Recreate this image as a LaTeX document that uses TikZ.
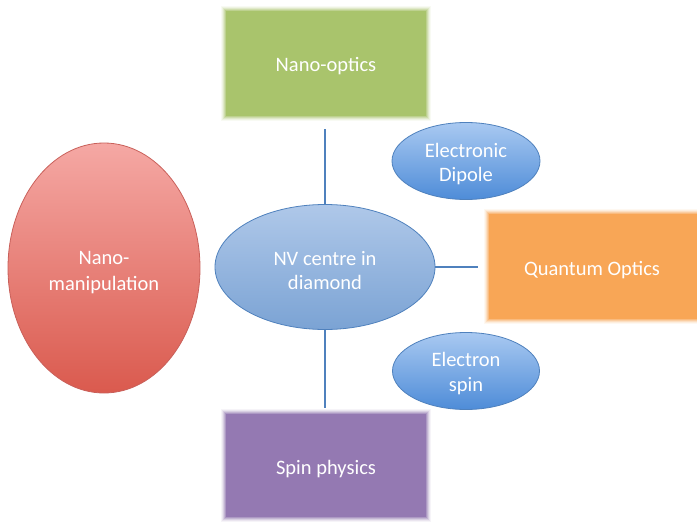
\documentclass[tikz,border=0pt]{standalone}
\usepackage{fontspec}
\setmainfont{Carlito}
\usetikzlibrary{shapes.geometric}
\definecolor{cgreen}{HTML}{A9C46C}
\definecolor{corange}{HTML}{F8A656}
\definecolor{cpurple}{HTML}{9479B2}
\definecolor{credtop}{HTML}{F5A8A4}
\definecolor{credbot}{HTML}{DA5A4E}
\definecolor{credline}{HTML}{C9605A}
\definecolor{cnvtop}{HTML}{AFC8E9}
\definecolor{cnvbot}{HTML}{7BA3D4}
\definecolor{cline}{HTML}{4F81BD}
\definecolor{csmtop}{HTML}{A9C9F1}
\definecolor{csmbot}{HTML}{4E8CD8}
\tikzset{
  lbl/.style={text=white, font=\fontsize{20.5}{24}\selectfont, align=center, inner sep=0pt},
  softbox/.style={rectangle, inner sep=0pt, lbl},
  nvell/.style={ellipse, inner sep=0pt, draw=cline, line width=0.8pt,
    top color=cnvtop, bottom color=cnvbot},
  smell/.style={ellipse, inner sep=0pt, draw=cline, line width=0.8pt,
    top color=csmtop, bottom color=csmbot},
  redell/.style={ellipse, inner sep=0pt, draw=credline, line width=0.8pt,
    top color=credtop, bottom color=credbot},
  link/.style={draw=cline, line width=2pt},
}
\newcommand{\softrect}[5]{% x1 y1 x2 y2 colour
  \foreach \d/\o in {5/0.08,4/0.12,3/0.2,2/0.3,1/0.45}{
    \fill[#5, opacity=\o] (#1-\d,#2-\d) rectangle (#3+\d,#4+\d);
  }
  \fill[#5] (#1,#2) rectangle (#3,#4);
}
\begin{document}
\begin{tikzpicture}[x=1pt,y=-1pt]
\useasboundingbox (0,0) rectangle (697,522);
\fill[white] (0,0) rectangle (697,522);
% soft rectangles
\softrect{226}{11}{426}{116}{cgreen}
\softrect{489}{214}{701}{319}{corange}
\softrect{226}{414}{426}{517}{cpurple}
\node[softbox, minimum width=200pt, minimum height=105pt] (optics) at (326,66) {Nano-optics};
\node[softbox, minimum width=212pt, minimum height=105pt] (qoptics) at (592,270) {Quantum Optics};
\node[softbox, minimum width=200pt, minimum height=103pt] (spin) at (326,469) {Spin physics};
% ellipses
\node[redell, minimum width=192pt, minimum height=250pt,
  label={[lbl, font=\fontsize{20.5}{26}\selectfont, yshift=-5pt]center:{Nano-\\manipulation}}] (manip) at (104,268) {};
\node[nvell, minimum width=220pt, minimum height=125pt,
  label={[lbl, yshift=-4pt]center:{NV centre in\\diamond}}] (nv) at (325,267) {};
\node[smell, minimum width=148pt, minimum height=77pt,
  label={[lbl, yshift=-3pt]center:{Electronic\\Dipole}}] (dipole) at (466,161) {};
\node[smell, minimum width=147pt, minimum height=77pt,
  label={[lbl, font=\fontsize{20.5}{25}\selectfont, yshift=-3pt]center:{Electron\\spin}}] (espin) at (466,371) {};
% connectors
\draw[link, shorten >=10pt] (nv.north) -- (nv.north |- optics.south);
\draw[link, shorten >=9pt] (nv.south) -- (nv.south |- spin.north);
\draw[link, shorten >=8pt] (nv.east) -- (nv.east -| qoptics.west);
\end{tikzpicture}
\end{document}
